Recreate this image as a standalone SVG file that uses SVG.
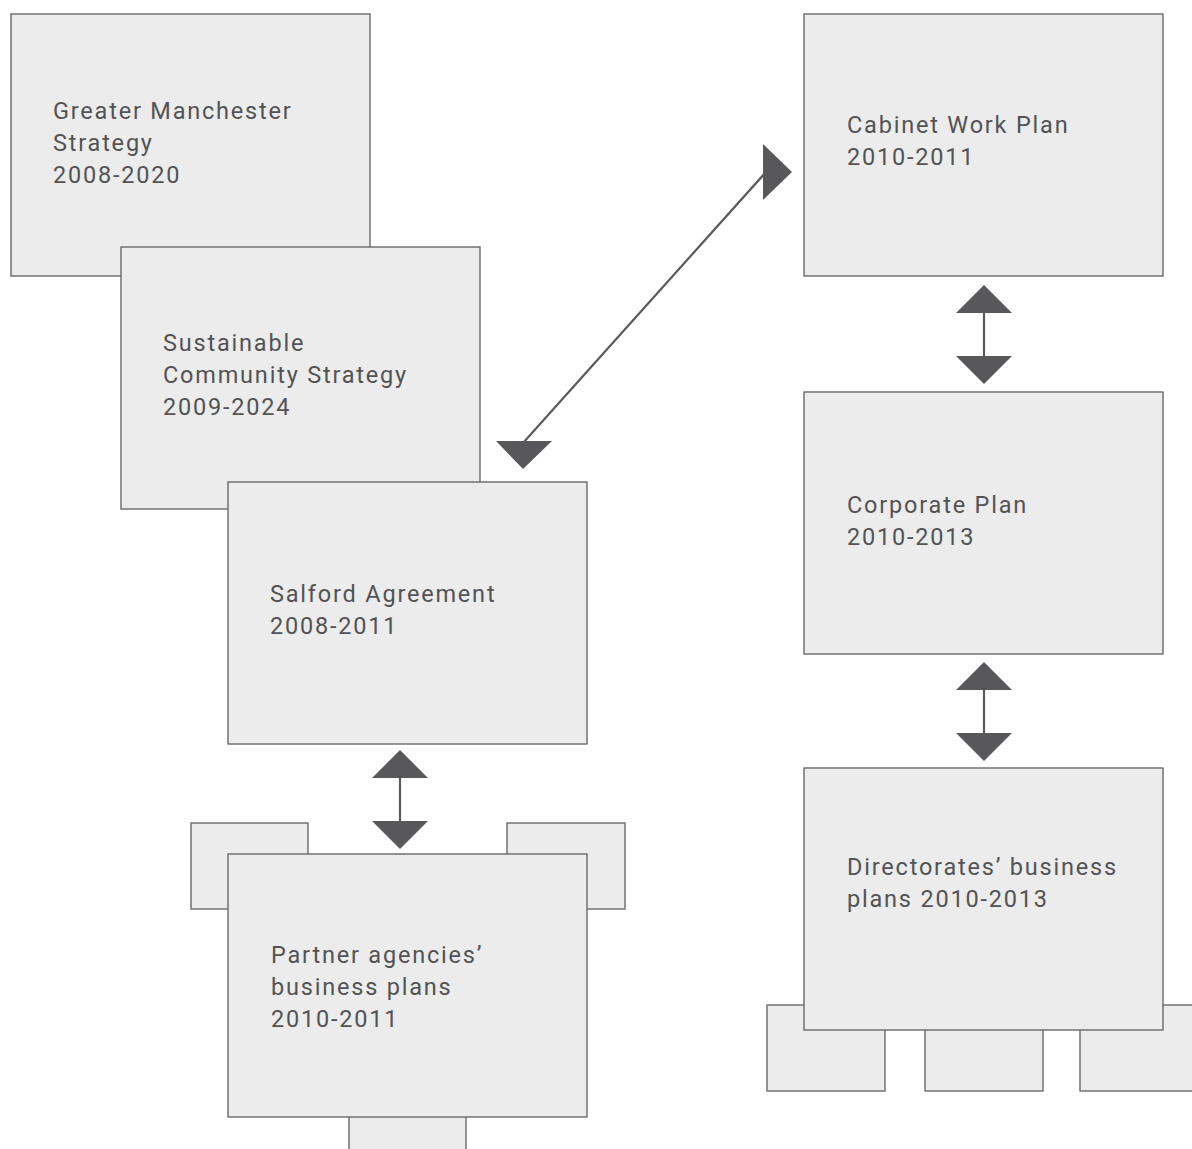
<svg xmlns="http://www.w3.org/2000/svg" width="1192" height="1149" viewBox="0 0 1192 1149">
<style>
.box{fill:#ebeceb;stroke:#6a6a6a;stroke-width:1.4}
.t{font-family:Roboto,"Liberation Sans",sans-serif;font-size:23.5px;fill:#535355;letter-spacing:1.8px}
.ln{stroke:#5a5a5c;stroke-width:2.2;fill:none}
.hd{fill:#58585a}
</style>
<rect width="1192" height="1149" fill="#ffffff"/>
<g id="gm-strategy">
<rect class="box" x="11" y="14" width="359" height="262"/>
<text class="t" x="53" y="119">Greater Manchester</text>
<text class="t" x="53" y="151">Strategy</text>
<text class="t" x="53" y="183">2008-2020</text>
</g>
<g id="sustainable-community">
<rect class="box" x="121" y="247" width="359" height="262"/>
<text class="t" x="163" y="351">Sustainable</text>
<text class="t" x="163" y="383">Community Strategy</text>
<text class="t" x="163" y="415">2009-2024</text>
</g>
<g id="salford-agreement">
<rect class="box" x="228" y="482" width="359" height="262"/>
<text class="t" x="270" y="602">Salford Agreement</text>
<text class="t" x="270" y="634">2008-2011</text>
</g>
<g id="partner-agencies">
<rect class="box" x="191" y="823" width="117" height="86"/>
<rect class="box" x="507" y="823" width="118" height="86"/>
<rect class="box" x="349" y="1100" width="117" height="60"/>
<rect class="box" x="228" y="854" width="359" height="263"/>
<text class="t" x="271" y="963">Partner agencies’</text>
<text class="t" x="271" y="995">business plans</text>
<text class="t" x="271" y="1027">2010-2011</text>
</g>
<g id="cabinet-work-plan">
<rect class="box" x="804" y="14" width="359" height="262"/>
<text class="t" x="847" y="133">Cabinet Work Plan</text>
<text class="t" x="847" y="165">2010-2011</text>
</g>
<g id="corporate-plan">
<rect class="box" x="804" y="392" width="359" height="262"/>
<text class="t" x="847" y="513">Corporate Plan</text>
<text class="t" x="847" y="545">2010-2013</text>
</g>
<g id="directorates-plans">
<rect class="box" x="767" y="1005" width="118" height="86"/>
<rect class="box" x="925" y="1005" width="118" height="86"/>
<rect class="box" x="1080" y="1005" width="130" height="86"/>
<rect class="box" x="804" y="768" width="359" height="262"/>
<text class="t" x="847" y="875">Directorates’ business</text>
<text class="t" x="847" y="907">plans 2010-2013</text>
</g>
<g id="connectors">
<line class="ln" x1="523" y1="443" x2="766" y2="172"/>
<polygon class="hd" points="496,441 552,441 523,469"/>
<polygon class="hd" points="763,144 792,172 763,200"/>
<line class="ln" x1="400" y1="776" x2="400" y2="823"/>
<polygon class="hd" points="400,750 428,778 372,778"/>
<polygon class="hd" points="372,821 428,821 400,849"/>
<line class="ln" x1="984" y1="311" x2="984" y2="358"/>
<polygon class="hd" points="984,285 1012,313 956,313"/>
<polygon class="hd" points="956,356 1012,356 984,384"/>
<line class="ln" x1="984" y1="688" x2="984" y2="735"/>
<polygon class="hd" points="984,662 1012,690 956,690"/>
<polygon class="hd" points="956,733 1012,733 984,761"/>
</g>
</svg>
